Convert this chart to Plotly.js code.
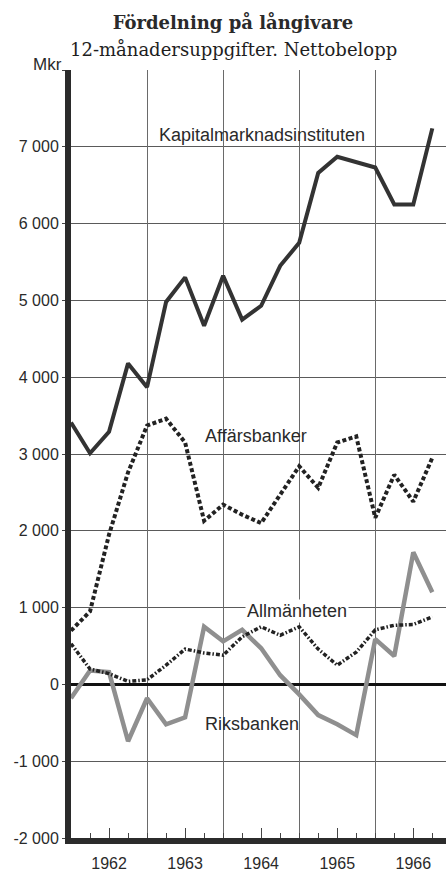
<!DOCTYPE html>
<html>
<head>
<meta charset="utf-8">
<script src="https://cdn.plot.ly/plotly-3.0.1.min.js"></script>
<style>html,body{margin:0;padding:0;background:#fff;}#chart{width:446px;height:873px;}</style>
</head>
<body>
<div id="chart"></div>
<script>
// Quarterly observations (end of quarter), Dec 1961 .. Sep 1966, plotted as fractional years
const quarters = [1962.00, 1962.25, 1962.50, 1962.75, 1963.00, 1963.25, 1963.50, 1963.75,
                  1964.00, 1964.25, 1964.50, 1964.75, 1965.00, 1965.25, 1965.50, 1965.75,
                  1966.00, 1966.25, 1966.50, 1966.75];

const kapitalmarknadsinstituten = [3410, 3010, 3290, 4180, 3870, 4980, 5300, 4670, 5320, 4750,
                                   4930, 5450, 5750, 6660, 6870, 6800, 6730, 6250, 6250, 7240];
const affarsbanker = [700, 950, 1950, 2760, 3370, 3460, 3150, 2130, 2340, 2210,
                      2100, 2460, 2840, 2560, 3150, 3230, 2170, 2730, 2380, 2950];
const allmanheten = [530, 200, 140, 40, 60, 250, 460, 410, 380, 620,
                     750, 640, 750, 460, 250, 420, 710, 770, 780, 880];
const riksbanken = [-180, 180, 160, -740, -180, -520, -430, 750, 560, 710,
                    470, 120, -130, -400, -520, -660, 590, 370, 1720, 1200];

const yearLabelPos = [1962.5, 1963.5, 1964.5, 1965.5, 1966.5];
const yearLabels = ['1962', '1963', '1964', '1965', '1966'];
const yTickVals = [-2000, -1000, 0, 1000, 2000, 3000, 4000, 5000, 6000, 7000, 8000];
const yTickText = ['-2 000', '-1 000', '0', '1 000', '2 000', '3 000', '4 000', '5 000', '6 000', '7 000', ''];

const sans = 'Liberation Sans, Arial, sans-serif';
const serif = 'DejaVu Serif, Liberation Serif, serif';
const ink = '#2a2a2a';

const traces = [
  {x: quarters, y: riksbanken, type: 'scatter', mode: 'lines', name: 'Riksbanken',
   line: {color: '#8f8f8f', width: 4.5}, hoverinfo: 'x+y'},
  {x: quarters, y: allmanheten, type: 'scatter', mode: 'lines', name: 'Allmänheten',
   line: {color: '#222', width: 3.5, dash: '4px,2px,1.5px,2px'}},
  {x: quarters, y: affarsbanker, type: 'scatter', mode: 'lines', name: 'Affärsbanker',
   line: {color: '#222', width: 4, dash: '4px,2.5px'}},
  {x: quarters, y: kapitalmarknadsinstituten, type: 'scatter', mode: 'lines', name: 'Kapitalmarknadsinstituten',
   line: {color: '#333', width: 4}},
  // carrier for the overlaid year-grid axis (invisible)
  {x: quarters, y: kapitalmarknadsinstituten, type: 'scatter', mode: 'lines', xaxis: 'x2',
   line: {color: 'rgba(0,0,0,0)', width: 0}, hoverinfo: 'skip', showlegend: false}
];

const layout = {
  width: 446, height: 873,
  margin: {l: 71, r: 0, t: 70, b: 35},
  paper_bgcolor: '#fff', plot_bgcolor: '#fff',
  showlegend: false,
  title: {text: '<b>Fördelning på långivare</b>', font: {family: serif, size: 18, color: ink},
          x: 233 / 446, xanchor: 'center', xref: 'container',
          y: 1 - 23 / 873, yanchor: 'middle', yref: 'container'},
  xaxis: {
    range: [1962, 1966.93], tickmode: 'array', tickvals: yearLabelPos, ticktext: yearLabels,
    ticks: 'inside', ticklen: 10, tickwidth: 1, tickcolor: '#444',
    minor: {dtick: 0.25, tick0: 1962, ticks: 'inside', ticklen: 5, tickwidth: 1, tickcolor: '#444', showgrid: false},
    showgrid: false, zeroline: false,
    showline: true, linewidth: 6, linecolor: '#2b2b2b',
    ticklabelstandoff: 6,
    tickfont: {family: sans, size: 16, color: ink}, fixedrange: true
  },
  xaxis2: {
    overlaying: 'x', anchor: 'y', side: 'bottom',
    range: [1962, 1966.93], tick0: 1962, dtick: 1,
    showgrid: true, gridcolor: '#6a6a6a', gridwidth: 1,
    ticks: '', showticklabels: false, showline: false, zeroline: false, fixedrange: true
  },
  yaxis: {
    range: [-2000, 8000], tickmode: 'array', tickvals: yTickVals, ticktext: yTickText,
    ticks: 'outside', ticklen: 3, tickwidth: 1, tickcolor: '#444',
    showgrid: true, gridcolor: '#5a5a5a', gridwidth: 1,
    zeroline: true, zerolinecolor: '#111', zerolinewidth: 3,
    showline: true, linewidth: 6, linecolor: '#2b2b2b',
    tickfont: {family: sans, size: 16, color: ink}, fixedrange: true
  },
  annotations: [
    {text: '12-månadersuppgifter. Nettobelopp', xref: 'paper', yref: 'paper',
     x: (233 - 71) / 375, y: (838 - 50) / 768, xanchor: 'center', yanchor: 'middle', showarrow: false,
     font: {family: serif, size: 18, color: '#1e1e1e'}},
    {text: 'Mkr', xref: 'paper', yref: 'paper', x: (47 - 71) / 375, y: (838 - 64) / 768,
     xanchor: 'center', yanchor: 'middle', showarrow: false, font: {family: sans, size: 17, color: ink}},
    {text: 'Kapitalmarknadsinstituten', x: 1964.51, y: 7150, showarrow: false,
     xanchor: 'center', yanchor: 'middle', font: {family: sans, size: 18, color: ink}},
    {text: 'Affärsbanker', x: 1964.43, y: 3230, showarrow: false,
     xanchor: 'center', yanchor: 'middle', font: {family: sans, size: 18, color: ink}},
    {text: 'Allmänheten', x: 1964.97, y: 950, showarrow: false, bgcolor: '#fff', borderpad: 1,
     xanchor: 'center', yanchor: 'middle', font: {family: sans, size: 18, color: ink}},
    {text: 'Riksbanken', x: 1964.38, y: -520, showarrow: false,
     xanchor: 'center', yanchor: 'middle', font: {family: sans, size: 18, color: ink}}
  ]
};

Plotly.newPlot('chart', traces, layout, {staticPlot: true, displayModeBar: false});
</script>
</body>
</html>
